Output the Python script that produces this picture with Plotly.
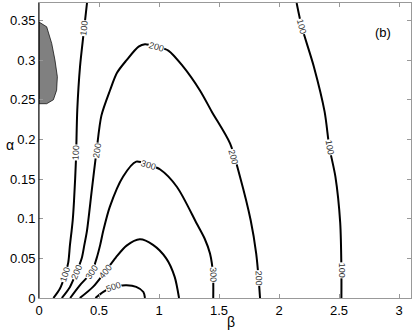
import plotly.graph_objects as go

# contour lines (beta, alpha)
c100_left_x = [0.12, 0.175, 0.217, 0.244, 0.258, 0.272, 0.281, 0.292, 0.308, 0.319, 0.342, 0.372, 0.40]
c100_left_y = [0.0, 0.012, 0.029, 0.045, 0.067, 0.085, 0.098, 0.123, 0.174, 0.237, 0.292, 0.334, 0.372]

c200_x = [0.19, 0.258, 0.314, 0.356, 0.378, 0.40, 0.44, 0.48, 0.52, 0.592, 0.65, 0.73, 0.83, 0.883,
          0.98, 1.078, 1.2, 1.34, 1.44, 1.592, 1.675, 1.764, 1.81, 1.83, 1.842]
c200_y = [0.0, 0.014, 0.033, 0.05, 0.067, 0.085, 0.136, 0.186, 0.230, 0.262, 0.284, 0.30, 0.317, 0.32,
          0.317, 0.312, 0.292, 0.262, 0.235, 0.195, 0.153, 0.098, 0.056, 0.025, 0.0]

c300_x = [0.26, 0.34, 0.44, 0.48, 0.51, 0.536, 0.59, 0.70, 0.81, 0.91, 1.01, 1.15, 1.314, 1.38, 1.425, 1.45, 1.452]
c300_y = [0.0, 0.016, 0.033, 0.05, 0.067, 0.085, 0.115, 0.153, 0.172, 0.168, 0.162, 0.14, 0.094, 0.075, 0.056, 0.03, 0.0]

c400_x = [0.34, 0.45, 0.55, 0.64, 0.73, 0.84, 0.95, 1.06, 1.13, 1.167]
c400_y = [0.0, 0.014, 0.033, 0.051, 0.066, 0.074, 0.067, 0.05, 0.027, 0.0]

c500_x = [0.47, 0.536, 0.62, 0.73, 0.81, 0.87, 0.883]
c500_y = [0.0, 0.0076, 0.014, 0.016, 0.014, 0.0076, 0.0]

c100_right_x = [2.147, 2.19, 2.29, 2.38, 2.42, 2.47, 2.51, 2.52, 2.52]
c100_right_y = [0.372, 0.342, 0.292, 0.235, 0.19, 0.153, 0.095, 0.035, 0.0]

# shaded region near beta = 0
region_x = [0, 0.064, 0.106, 0.133, 0.153, 0.147, 0.12, 0.064, 0, 0]
region_y = [0.348, 0.342, 0.321, 0.30, 0.279, 0.262, 0.25, 0.245, 0.245, 0.348]

# contour labels
label_text = ["100", "100", "100", "200", "200", "200", "200", "200",
              "300", "300", "300", "400", "500", "100", "100", "100"]
label_x = [0.217, 0.308, 0.378, 0.314, 0.48, 0.98, 1.62, 1.83,
           0.44, 0.91, 1.45, 0.55, 0.62, 2.19, 2.42, 2.52]
label_y = [0.029, 0.184, 0.34, 0.033, 0.186, 0.317, 0.178, 0.025,
           0.033, 0.168, 0.03, 0.033, 0.014, 0.342, 0.19, 0.035]
label_angle = [-73, -88, -84, -67, -82, 17, 74, 88,
               -58, 17, 88, -50, -18, 75, 80, 90]

fig = go.Figure()

fig.add_trace(go.Scatter(x=region_x, y=region_y, fill="toself", fillcolor="#808080",
                         line=dict(color="black", width=0.7), mode="lines", hoverinfo="skip"))

for xs, ys in [(c100_left_x, c100_left_y), (c200_x, c200_y), (c300_x, c300_y),
               (c400_x, c400_y), (c500_x, c500_y), (c100_right_x, c100_right_y)]:
    fig.add_trace(go.Scatter(x=xs, y=ys, mode="lines",
                             line=dict(color="black", width=2, shape="spline", smoothing=0.8)))

for t, x, y, a in zip(label_text, label_x, label_y, label_angle):
    fig.add_annotation(x=x, y=y, text=t, textangle=a, showarrow=False,
                       font=dict(size=9, color="#333333"), bgcolor="white", borderpad=0)

fig.add_annotation(x=2.87, y=0.335, text="(b)", showarrow=False,
                   font=dict(size=13, color="black"))

# axis titles
fig.add_annotation(xref="paper", yref="paper", x=0.5, y=0, xshift=6, yshift=-24, yanchor="middle",
                   text="β", showarrow=False, font=dict(size=14))
fig.add_annotation(xref="paper", yref="paper", x=0, y=0.52, xshift=-35, xanchor="left",
                   text="α", showarrow=False, font=dict(size=14))

# dark left axis line
fig.add_shape(type="line", xref="paper", yref="paper", x0=0, x1=0, y0=0, y1=1,
              line=dict(color="black", width=1), layer="above")

axis_style = dict(showgrid=False, zeroline=False, showline=True, linecolor="#999999",
                  mirror="ticks", ticks="inside", ticklen=4, tickcolor="#999999",
                  tickfont=dict(size=13, color="black"), automargin=False)

fig.update_xaxes(range=[0, 3.1], tickvals=[0, 0.5, 1, 1.5, 2, 2.5, 3], **axis_style)
fig.update_yaxes(range=[0, 0.372], tickvals=[0, 0.05, 0.1, 0.15, 0.2, 0.25, 0.3, 0.35], **axis_style)

fig.update_layout(
    width=415, height=332,
    margin=dict(l=39, r=4, t=3, b=34),
    plot_bgcolor="white", paper_bgcolor="white",
    showlegend=False,
    font=dict(family="Liberation Sans, Arial, sans-serif", color="black"),
)

# drop the browser's default page margin so the figure sits at the window corner
fig.write_html("out.html", config={"displayModeBar": False},
               post_script="document.body.style.margin='0';")
